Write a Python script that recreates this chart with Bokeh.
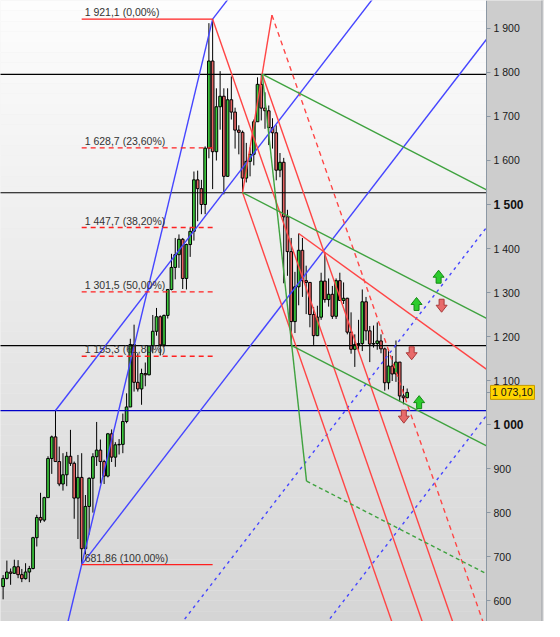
import numpy as np
from bokeh.plotting import figure
from bokeh.models import FixedTicker, LinearAxis
from bokeh.embed import file_html
from bokeh.resources import INLINE
from bokeh.core.properties import value

# ---------------- data: gold, monthly candles, Jan 2007 .. Jan 2016 ----------------
opens = [632, 650.5, 665, 662, 677, 659, 650, 665, 673, 743, 789, 783,
         834, 923, 972, 916, 865, 886, 928, 912, 833, 880, 718, 814,
         878, 927, 942, 916, 883, 979, 926, 954, 955, 1007, 1040, 1182,
         1096, 1081, 1116, 1113, 1179, 1212, 1245, 1181, 1248, 1307, 1357, 1386,
         1421, 1332, 1409, 1439, 1556, 1536, 1500, 1628, 1826, 1620, 1722, 1746,
         1564, 1738, 1710, 1669, 1664, 1560, 1598, 1614, 1688, 1773, 1719, 1713,
         1675, 1663, 1578, 1596, 1472, 1393, 1234, 1313, 1396, 1327, 1323, 1250,
         1202, 1244, 1326, 1284, 1296, 1246, 1327, 1282, 1287, 1210, 1171, 1182,
         1184, 1279, 1213, 1183, 1184, 1190, 1172, 1095, 1133, 1115, 1142, 1065,
         1061]
highs = [658, 691, 673, 693, 692, 672, 685, 679, 745, 795, 845, 836,
         928, 975, 1032, 950, 935, 938, 988, 916, 931, 935, 840, 880,
         935, 1006, 966, 920, 981, 989, 960, 967, 1025, 1071, 1195, 1227,
         1162, 1127, 1141, 1180, 1249, 1265, 1248, 1250, 1308, 1388, 1424, 1432,
         1424, 1411, 1447, 1575, 1577, 1556, 1632, 1912, 1921.1, 1764, 1803, 1764,
         1764, 1791, 1720, 1680, 1668, 1640, 1630, 1693, 1789, 1796, 1755, 1725,
         1696, 1680, 1617, 1606, 1488, 1424, 1347, 1434, 1424, 1361, 1324, 1267,
         1270, 1345, 1392, 1332, 1315, 1332, 1345, 1323, 1288, 1255, 1205, 1238,
         1307, 1290, 1224, 1225, 1232, 1205, 1175, 1170, 1156, 1191, 1142, 1088,
         1082]
lows = [603, 648, 636, 661, 651, 642, 648, 642, 671, 723, 777, 779,
        834, 888, 917, 860, 850, 860, 906, 786, 740, 681.86, 705, 750,
        800, 906, 866, 865, 880, 915, 904, 932, 935, 1003, 1040, 1075,
        1075, 1045, 1087, 1112, 1162, 1202, 1157, 1176, 1241, 1305, 1330, 1356,
        1308, 1307, 1381, 1418, 1462, 1478, 1478, 1605, 1535, 1600, 1670, 1523,
        1563, 1693, 1627, 1614, 1527, 1550, 1564, 1589, 1688, 1691, 1672, 1635,
        1627, 1555, 1562, 1321, 1338, 1180, 1208, 1271, 1290, 1251, 1221, 1181,
        1201, 1238, 1277, 1268, 1240, 1240, 1281, 1274, 1205, 1161, 1131, 1170,
        1167, 1191, 1142, 1175, 1170, 1162, 1077, 1080, 1099, 1097, 1052, 1046,
        1060]
closes = [650.5, 665, 662, 677, 659, 650, 665, 673, 743, 789, 783, 834,
          923, 972, 916, 865, 886, 928, 912, 833, 880, 718, 814, 878,
          927, 942, 916, 883, 979, 926, 954, 955, 1007, 1040, 1182, 1096,
          1081, 1116, 1113, 1179, 1212, 1245, 1181, 1248, 1307, 1357, 1386, 1421,
          1332, 1409, 1439, 1556, 1536, 1500, 1628, 1826, 1620, 1722, 1746, 1564,
          1738, 1710, 1669, 1664, 1560, 1598, 1614, 1688, 1773, 1719, 1713, 1675,
          1663, 1578, 1596, 1472, 1393, 1234, 1313, 1396, 1327, 1323, 1250, 1202,
          1244, 1326, 1284, 1296, 1246, 1327, 1282, 1287, 1210, 1171, 1182, 1184,
          1279, 1213, 1183, 1184, 1190, 1172, 1095, 1133, 1115, 1142, 1065, 1061,
          1073.1]
months = list(range(len(opens)))
last_price = 1073.1
last_price_label = "1 073,10"

# Fibonacci retracement (Oct 2008 low -> Sep 2011 high)
fib_high = 1921.1
fib_low = 681.86
fib_m_start = 21
fib_m_end = 56
fib_ratios = [0.0, 0.236, 0.382, 0.5, 0.618, 1.0]
fib_labels = ["1 921,1 (0,00%)", "1 628,7 (23,60%)", "1 447,7 (38,20%)",
              "1 301,5 (50,00%)", "1 155,3 (61,80%)", "681,86 (100,00%)"]

# horizontal levels
levels_black = [1795.8, 1526.7, 1179.3]
levels_blue = [1031.5]

# blue channel anchors (month, price)
blue_low = (21, 681.86)
blue_peak = (56, 1921.1)
blue_mar08 = (14, 1032.0)
blue_slope = 11.03          # $ per month

# red pitchfork anchors
fork_a = (56, 1921.1)
fork_b = (64, 1527.0)
fork_c = (69.25, 1796.0)
fork_e = (71.85, 1930.3)

# red resistance line (Aug 2013 high, Mar 2014 high)
res_m = [79, 86]
res_p = [1434, 1391]

# green fork
green_c = (69.25, 1796.0)
green_d = (81.1, 871.6)
green_start_m = [69.25, 64, 77.15]
green_start_p = [1796.0, 1527.0, 1179.5]
green_slope = -4.38

# signal arrows
arrow_m = [116.4, 110.5, 117.2, 109.2, 111.2, 107.1]
arrow_p = [1336, 1274, 1270, 1162, 1051, 1018]
arrow_up = [True, True, False, False, True, False]

tick_vals = [600, 700, 800, 900, 1000, 1100, 1200, 1300, 1400, 1500, 1600, 1700, 1800, 1900]
tick_text = ["600", "700", "800", "900", "1 000", "1 100", "1 200", "1 300", "1 400",
             "1 500", "1 600", "1 700", "1 800", "1 900"]
bold_ticks = [1000, 1500]

# ---------------- figure ----------------
W, H, AXW = 544, 621, 58
FW = W - AXW                       # width of the chart area in px
X0, X1 = -0.70, 129.2              # months shown in the chart area
Y0, Y1 = 552.6, 1963.5
pxm = FW / (X1 - X0)               # px per month
pxp = H / (Y1 - Y0)                # px per $
XE = X0 + W / pxm                  # right edge incl. price-axis panel

p = figure(width=W, height=H, x_range=(X0, XE), y_range=(Y0, Y1),
           output_backend="svg", toolbar_location=None,
           x_axis_location=None, y_axis_location=None,
           min_border_left=0, min_border_top=0, min_border_bottom=0,
           min_border_right=0)
p.xgrid.visible = False
p.ygrid.visible = False
p.outline_line_color = None
p.border_fill_color = "#cdcdcd"
p.background_fill_color = "#ececec"

# background gradient bands
nb = 60
edges = np.linspace(Y0, Y1, nb + 1)
cols = []
for i in range(nb):
    g = int(round(213 + (253 - 213) * (i + 0.5) / nb))
    cols.append("#%02x%02x%02x" % (g, g, g))
p.quad(left=X0 - 1, right=X1, bottom=edges[:-1], top=edges[1:],
       fill_color=cols, line_color=None)

# candles
o = np.array(opens, float); c = np.array(closes, float)
hi = np.array(highs, float); lo = np.array(lows, float)
up = c >= o
p.segment(x0=months, y0=lo, x1=months, y1=hi, line_color="black", line_width=1)
body_col = ["#3cc83c" if u else "#e46464" for u in up]
p.vbar(x=months, width=0.72, top=np.maximum(o, c), bottom=np.minimum(o, c),
       fill_color=body_col, line_color="black", line_width=1)

# horizontal levels
for lv in levels_black:
    p.line([X0 - 1, X1], [lv, lv], line_color="black", line_width=1.2)
for lv in levels_blue:
    p.line([X0 - 1, X1], [lv, lv], line_color="#0000c8", line_width=1.2)

BLUE = "#4545ff"; RED = "#ff4545"; GREEN = "#3fa23f"
MFAR = X1 + 3

def ray(m0, p0, slope, m1):
    return [m0, m1], [p0, p0 + slope * (m1 - m0)]

# blue: steep line from peak through the low, down to the frame bottom
s_steep = (blue_peak[1] - blue_low[1]) / (blue_peak[0] - blue_low[0])
m_bot = blue_low[0] + (400 - blue_low[1]) / s_steep
p.line([blue_peak[0], m_bot], [blue_peak[1], 400], line_color=BLUE, line_width=1.4)
# blue channel lines
for (m0, p0) in [blue_peak, blue_mar08, blue_low]:
    xs, ys = ray(m0, p0, blue_slope, MFAR)
    p.line(xs, ys, line_color=BLUE, line_width=1.4)
width_ch = (blue_mar08[1] - blue_slope * (blue_mar08[0] - blue_low[0])) - blue_low[1]
for k in (1, 2):
    p0 = blue_low[1] - k * width_ch
    xs, ys = ray(blue_low[0], p0, blue_slope, MFAR)
    xs2, ys2 = ray(blue_low[0], p0, blue_slope, -20)
    p.line([xs2[1], xs[1]], [ys2[1], ys[1]], line_color=BLUE, line_width=1.4,
           line_dash="3 4")

# red pitchfork
mid_m = (fork_b[0] + fork_c[0]) / 2
mid_p = (fork_b[1] + fork_c[1]) / 2
s_fork = (mid_p - fork_a[1]) / (mid_m - fork_a[0])
for (m0, p0) in [fork_a, fork_b, fork_c]:
    m1 = m0 + (400 - p0) / s_fork
    p.line([m0, m1], [p0, 400], line_color=RED, line_width=1.4)
m1 = fork_e[0] + (400 - fork_e[1]) / s_fork
p.line([fork_e[0], m1], [fork_e[1], 400], line_color=RED, line_width=1.4, line_dash="5 4")
p.line([fork_b[0], fork_e[0]], [fork_b[1], fork_e[1]], line_color=RED, line_width=1.4)
# red resistance
s_res = (res_p[1] - res_p[0]) / (res_m[1] - res_m[0])
xs, ys = ray(res_m[0], res_p[0], s_res, MFAR)
p.line(xs, ys, line_color=RED, line_width=1.4)

# green fork
p.line([green_c[0], green_d[0]], [green_c[1], green_d[1]], line_color=GREEN, line_width=1.4)
for m0, p0 in zip(green_start_m, green_start_p):
    xs, ys = ray(m0, p0, green_slope, MFAR)
    p.line(xs, ys, line_color=GREEN, line_width=1.4)
xs, ys = ray(green_d[0], green_d[1], green_slope, MFAR)
p.line(xs, ys, line_color=GREEN, line_width=1.4, line_dash="4 3")

# Fibonacci levels
fib_vals = [fib_high - r * (fib_high - fib_low) for r in fib_ratios]
for r, v in zip(fib_ratios, fib_vals):
    dash = "solid" if r in (0.0, 1.0) else "5 4"
    p.line([fib_m_start, fib_m_end], [v, v], line_color="#ff2020", line_width=1.4,
           line_dash=dash)
p.text(x=[fib_m_start + 0.8] * len(fib_vals), y=fib_vals, text=fib_labels,
       text_font=value("Liberation Sans"), text_font_size="10.5px",
       text_color="#333333", text_baseline="bottom", text_align="left", y_offset=-1)

# arrows
shape = [(-2.5, -6.5), (2.5, -6.5), (2.5, -0.5), (5.5, -0.5), (0, 6.5), (-5.5, -0.5), (-2.5, -0.5)]
for am, ap, au in zip(arrow_m, arrow_p, arrow_up):
    sgn = 1 if au else -1
    xs = [am + dx / pxm for dx, dy in shape]
    ys = [ap + sgn * dy / pxp for dx, dy in shape]
    if au:
        p.patch(xs, ys, fill_color="#2ccc2c", line_color="#138a13", line_width=1)
    else:
        p.patch(xs, ys, fill_color="#e86a6a", line_color="#a83a3a", line_width=1)

# price-axis panel (drawn over anything that runs past the chart area)
p.quad(left=[X1], right=[XE + 1], bottom=[Y0 - 50], top=[Y1 + 50],
       fill_color="#cdcdcd", line_color=None)
edge_m = X1 + 55.5 / pxm
p.quad(left=[edge_m], right=[XE + 1], bottom=[Y0 - 50], top=[Y1 + 50],
       fill_color="#e4e4e4", line_color=None)
p.line([edge_m, edge_m], [Y0 - 50, Y1 + 50], line_color="#9a9ea4", line_width=1)

# last-price box
box_m = X1 + 26 / pxm
p.rect(x=[box_m], y=[last_price], width=44, height=14, width_units="screen",
       height_units="screen", fill_color="#ffd400", line_color="#c49a00", line_width=1)
p.text(x=[box_m], y=[last_price], text=[last_price_label],
       text_font=value("Liberation Sans"), text_font_size="10.5px",
       text_color="#111111", text_baseline="middle", text_align="center")

# right price axis (normal labels)
ov = {}
for v, t in zip(tick_vals, tick_text):
    ov[v] = " " if v in bold_ticks else t
ov[last_price] = " "
ax = LinearAxis(fixed_location=X1, ticker=FixedTicker(ticks=tick_vals + [last_price]),
                major_label_overrides=ov)
ax.major_label_text_font = "Liberation Sans"
ax.major_label_text_font_size = "10.5px"
ax.major_label_text_color = "#1a1a1a"
ax.axis_line_color = "#8c98a4"
ax.major_tick_line_color = "#8c98a4"
ax.major_tick_in = 0
ax.major_tick_out = 4
ax.minor_tick_line_color = None
ax.major_label_standoff = 3
p.add_layout(ax, "right")

# bold round levels
ovb = {v: t for v, t in zip(tick_vals, tick_text) if v in bold_ticks}
axb = LinearAxis(fixed_location=X1, ticker=FixedTicker(ticks=bold_ticks),
                 major_label_overrides=ovb)
axb.major_label_text_font = "Liberation Sans"
axb.major_label_text_font_size = "12px"
axb.major_label_text_font_style = "bold"
axb.major_label_text_color = "#111111"
axb.axis_line_color = None
axb.major_tick_line_color = "#8c98a4"
axb.major_tick_in = 0
axb.major_tick_out = 4
axb.minor_tick_line_color = None
axb.major_label_standoff = 3
p.add_layout(axb, "right")

open("out.html", "w").write(file_html(p, INLINE))
